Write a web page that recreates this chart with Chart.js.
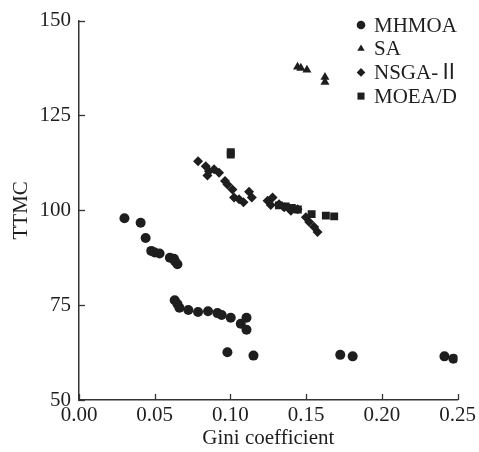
<!DOCTYPE html>
<html>
<head>
<meta charset="utf-8">
<script src="https://cdn.jsdelivr.net/npm/chart.js@4/dist/chart.umd.min.js"></script>
<style>
  html, body { margin: 0; padding: 0; background: #fff; }
  #wrap { width: 479px; height: 452px; }
</style>
</head>
<body>
<div id="wrap"><canvas id="c" width="479" height="452"></canvas></div>
<script>
const seriesNames = ["MHMOA", "SA", "NSGA-Ⅱ", "MOEA/D"];
const xTicks = [0.00, 0.05, 0.10, 0.15, 0.20, 0.25];
const yTicks = [50, 75, 100, 125, 150];

const mhmoaX = [0.030, 0.0407, 0.044, 0.0477, 0.050, 0.0532, 0.060, 0.0627, 0.0635, 0.065,
                0.0632, 0.065, 0.0663, 0.0722, 0.0786, 0.0852, 0.0914, 0.0942, 0.1002, 0.1106, 0.1068, 0.1106,
                0.098, 0.1152, 0.1725, 0.1807, 0.2413, 0.2472];
const mhmoaY = [97.9, 96.7, 92.7, 89.3, 88.9, 88.6, 87.5, 87.2, 86.5, 85.8,
                76.3, 75.3, 74.3, 73.7, 73.2, 73.4, 72.9, 72.4, 71.7, 71.7, 70.1, 68.5,
                62.6, 61.7, 61.9, 61.5, 61.5, 60.9];

const saX = [0.1443, 0.1465, 0.1505, 0.1624, 0.1624];
const saY = [137.8, 137.5, 137.0, 135.1, 133.8];

const nsgaX = [0.0786, 0.0837, 0.0858, 0.0848, 0.0892, 0.0925, 0.0964, 0.098, 0.1013, 0.1024,
               0.1057, 0.1086, 0.1123, 0.1141, 0.1245, 0.1278, 0.1266, 0.1321, 0.1355, 0.1399,
               0.1443, 0.1498, 0.152, 0.1553, 0.1575];
const nsgaY = [112.9, 111.6, 110.3, 109.2, 110.8, 109.9, 107.7, 106.8, 105.5, 103.4,
               102.9, 102.1, 104.9, 103.4, 102.5, 103.4, 101.4, 101.6, 100.8, 99.9,
               100.3, 98.2, 96.9, 95.6, 94.3];

const moeadX = [0.1002, 0.1002, 0.132, 0.1365, 0.1405, 0.1445, 0.1536, 0.163, 0.1685];
const moeadY = [114.7, 115.3, 101.3, 101.0, 100.6, 100.2, 99.0, 98.6, 98.4];

const ink = '#1e1e1e';
const serif = '"Liberation Serif", "Times New Roman", "Noto Sans CJK SC", serif';

function pts(xs, ys) { return xs.map((x, i) => ({ x: x, y: ys[i] })); }

const styles = [
  { pointStyle: 'circle', radius: 5 },
  { pointStyle: 'triangle', radius: 5.2 },
  { pointStyle: 'rectRot', radius: 5 },
  { pointStyle: 'rect', radius: 5.6 }
];
const dataXY = [[mhmoaX, mhmoaY], [saX, saY], [nsgaX, nsgaY], [moeadX, moeadY]];

const datasets = seriesNames.map((name, i) => ({
  label: name,
  data: pts(dataXY[i][0], dataXY[i][1]),
  pointStyle: styles[i].pointStyle,
  pointRadius: styles[i].radius,
  pointHoverRadius: styles[i].radius,
  backgroundColor: ink,
  borderColor: ink,
  borderWidth: 0,
  showLine: false
}));

function drawMarker(ctx, style, x, y, r) {
  ctx.beginPath();
  if (style === 'circle') {
    ctx.arc(x, y, r, 0, Math.PI * 2);
  } else if (style === 'triangle') {
    ctx.moveTo(x, y - r);
    ctx.lineTo(x + r * 0.866, y + r * 0.5);
    ctx.lineTo(x - r * 0.866, y + r * 0.5);
    ctx.closePath();
  } else if (style === 'rectRot') {
    ctx.moveTo(x, y - r);
    ctx.lineTo(x + r, y);
    ctx.lineTo(x, y + r);
    ctx.lineTo(x - r, y);
    ctx.closePath();
  } else {
    const s = r * 0.707;
    ctx.rect(x - s, y - s, 2 * s, 2 * s);
  }
  ctx.fill();
}

const innerTicks = {
  id: 'innerTicks',
  afterDraw(chart) {
    const ctx = chart.ctx;
    const xs = chart.scales.x, ys = chart.scales.y;
    const a = chart.chartArea;
    ctx.save();
    ctx.strokeStyle = '#333';
    ctx.lineWidth = 1.3;
    xTicks.forEach(v => {
      const px = Math.round(xs.getPixelForValue(v)) + 0.5;
      ctx.beginPath(); ctx.moveTo(px, a.bottom); ctx.lineTo(px, a.bottom - 6); ctx.stroke();
    });
    yTicks.forEach(v => {
      const py = Math.round(ys.getPixelForValue(v)) + 0.5;
      ctx.beginPath(); ctx.moveTo(a.left, py); ctx.lineTo(a.left + 6, py); ctx.stroke();
    });
    ctx.restore();
  }
};

const innerLegend = {
  id: 'innerLegend',
  afterDraw(chart) {
    const ctx = chart.ctx;
    ctx.save();
    ctx.fillStyle = ink;
    ctx.font = '21px ' + serif;
    ctx.textBaseline = 'middle';
    ctx.textAlign = 'left';
    const mx = 361, tx = 374, y0 = 25, dy = 23.7;
    chart.data.datasets.forEach((ds, i) => {
      const y = y0 + i * dy;
      drawMarker(ctx, ds.pointStyle, mx, y, ds.pointStyle === 'rect' ? 5 : 4.3);
      ctx.fillText(ds.label, tx, y + 1);
    });
    ctx.restore();
  }
};

new Chart(document.getElementById('c'), {
  type: 'scatter',
  data: { datasets: datasets },
  options: {
    responsive: false,
    animation: false,
    events: [],
    layout: { padding: { left: 0, right: 21, top: 16, bottom: 0 } },
    plugins: { legend: { display: false }, tooltip: { enabled: false } },
    scales: {
      x: {
        type: 'linear', min: 0, max: 0.25,
        afterBuildTicks: s => { s.ticks = xTicks.map(v => ({ value: v })); },
        afterFit: s => { s.height = 52; },
        grid: { display: true, drawOnChartArea: false, drawTicks: false },
        border: { display: true, color: '#333', width: 1.5 },
        ticks: { color: ink, font: { family: serif, size: 21 }, padding: 3, maxRotation: 0,
                 callback: v => Number(v).toFixed(2) },
        title: { display: true, text: 'Gini coefficient', color: ink,
                 font: { family: serif, size: 21 }, padding: { top: 0, bottom: 1 } }
      },
      y: {
        type: 'linear', min: 50, max: 150,
        afterBuildTicks: s => { s.ticks = yTicks.map(v => ({ value: v })); },
        afterFit: s => { s.width = 79; },
        grid: { display: true, drawOnChartArea: false, drawTicks: false },
        border: { display: true, color: '#333', width: 1.5 },
        ticks: { color: ink, font: { family: serif, size: 21 }, padding: 8 },
        title: { display: true, text: 'TTMC', color: ink,
                 font: { family: serif, size: 21 }, padding: { top: 9, bottom: 0 } }
      }
    }
  },
  plugins: [innerTicks, innerLegend]
});
</script>
</body>
</html>
